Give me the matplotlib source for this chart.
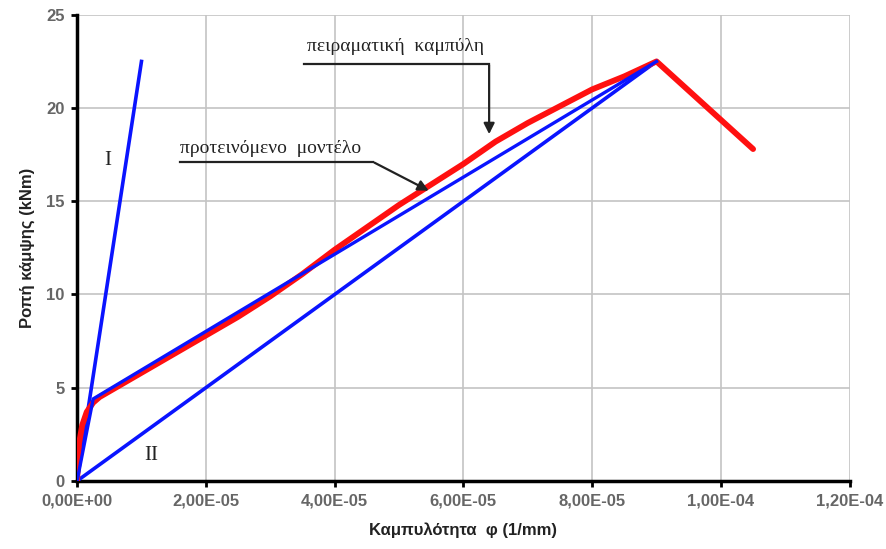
import matplotlib

matplotlib.use("Agg")
import matplotlib.pyplot as plt
from matplotlib.ticker import FuncFormatter

# curvature (1/mm) and bending moment (kNm)
exp_phi = [0, 0.3e-6, 0.8e-6, 1.5e-6, 2.5e-6, 3.5e-6, 5.0e-6, 7.0e-6, 1.0e-5, 1.3e-5,
           1.6e-5, 2.0e-5, 2.5e-5, 3.0e-5, 3.5e-5, 4.0e-5, 4.5e-5, 5.0e-5, 5.5e-5,
           6.0e-5, 6.5e-5, 7.0e-5, 7.5e-5, 8.0e-5, 8.5e-5, 9.0e-5, 1.05e-4]
exp_M = [0, 2.0, 3.0, 3.7, 4.2, 4.5, 4.8, 5.2, 5.8, 6.4,
         7.0, 7.8, 8.8, 9.9, 11.1, 12.4, 13.6, 14.8, 15.9,
         17.0, 18.2, 19.2, 20.1, 21.0, 21.7, 22.5, 17.8]

model_phi = [0, 2.5e-6, 9.0e-5]
model_M = [0, 4.4, 22.5]

line1_phi = [0, 1.0e-5]
line1_M = [0, 22.5]

line2_phi = [0, 9.0e-5]
line2_M = [0, 22.5]

fig = plt.figure(figsize=(8.86, 5.49), dpi=100)
ax = fig.add_axes([0.087, 0.124, 0.872, 0.849])

ax.plot(line1_phi, line1_M, color="#0a14ff", lw=2.6, zorder=3)
ax.plot(line2_phi, line2_M, color="#0a14ff", lw=2.6, zorder=3)
ax.plot(exp_phi, exp_M, color="#ff1010", lw=4.2, zorder=3, solid_capstyle="round")
ax.plot(model_phi, model_M, color="#0a14ff", lw=2.4, zorder=4)

ax.set_xlim(0, 1.2e-4)
ax.set_ylim(0, 25)
ax.set_xticks([i * 2e-5 for i in range(7)])
ax.set_yticks(range(0, 26, 5))
ax.xaxis.set_major_formatter(FuncFormatter(lambda v, _: f"{v:.2E}".replace(".", ",")))
ax.grid(True, color="#c4c4c4", lw=1.2, zorder=0)
ax.spines[["top", "right"]].set_visible(False)
ax.spines[["left", "bottom"]].set_linewidth(2.5)
ax.tick_params(labelsize=12, labelcolor="#666666", length=4, width=2, pad=5)
for lab in ax.get_xticklabels() + ax.get_yticklabels():
    lab.set_family("Liberation Sans")
    lab.set_fontweight("bold")

ax.set_xlabel("Καμπυλότητα  φ (1/mm)", family="Liberation Sans", fontweight="bold",
              fontsize=12, labelpad=10, color="#222222")
ax.set_ylabel("Ροπή κάμψης (kNm)", family="Liberation Sans", fontweight="bold",
              fontsize=12, labelpad=8, color="#222222")

serif = dict(family="Liberation Serif", color="#222222")
ax.text(4.8e-6, 17.2, "I", fontsize=15, ha="center", va="center", **serif)
ax.text(1.15e-5, 1.35, "II", fontsize=15, ha="center", va="center", **serif)

# leaders for the two labels
ax.text(4.95e-5, 23.3, "πειραματική  καμπύλη", fontsize=14, ha="center", va="center", **serif)
ax.plot([3.53e-5, 6.4e-5], [22.37, 22.37], color="#222222", lw=1.6, zorder=5)
ax.annotate("", xy=(6.4e-5, 18.45), xytext=(6.4e-5, 22.45),
            arrowprops=dict(arrowstyle="-|>", color="#222222", lw=1.6, mutation_scale=16), zorder=5)

ax.text(3.0e-5, 17.85, "προτεινόμενο  μοντέλο", fontsize=14, ha="center", va="center", **serif)
ax.plot([1.6e-5, 4.59e-5], [17.11, 17.11], color="#222222", lw=1.6, zorder=5)
ax.annotate("", xy=(5.5e-5, 15.5), xytext=(4.58e-5, 17.14),
            arrowprops=dict(arrowstyle="-|>", color="#222222", lw=1.6, mutation_scale=16), zorder=5)

fig.savefig("out.png", dpi=100)
